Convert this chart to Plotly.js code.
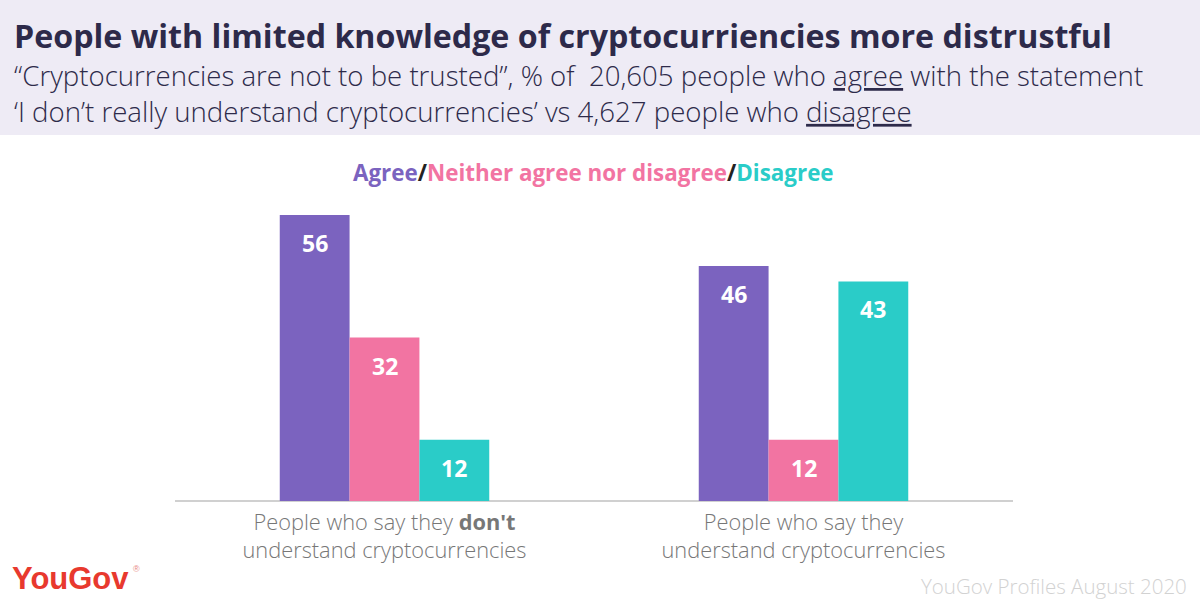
<!DOCTYPE html>
<html>
<head>
<meta charset="utf-8">
<script src="https://cdn.plot.ly/plotly-3.0.1.min.js"></script>
<style>html,body{margin:0;padding:0;background:#fff;}#chart{width:1200px;height:600px;}</style>
</head>
<body>
<div id="chart"></div>
<script>
// ---- data ----
const categories = [
  "People who say they <b>don't</b><br>understand cryptocurrencies",
  "People who say they<br>understand cryptocurrencies"
];
const seriesNames = ["Agree", "Neither agree nor disagree", "Disagree"];
const agreeValues = [56, 46];
const neitherValues = [32, 12];
const disagreeValues = [12, 43];
const seriesValues = [agreeValues, neitherValues, disagreeValues];
const seriesColors = ["#7B63BF", "#F274A2", "#2ACCC8"];

// ---- layout geometry ----
const W = 1200, H = 600;
const M = {l: 175, r: 187, t: 195, b: 99};
const PW = W - M.l - M.r, PH = H - M.t - M.b;
const xp = px => (px - M.l) / PW;
const yp = py => (H - M.b - py) / PH;
const bargap = 0.5;
const barW = (1 - bargap) / 3;

const FONT = "'Open Sans', Lato, sans-serif";
const DARK = "#2D2A4A";

const traces = seriesNames.map((name, j) => ({
  type: "bar",
  name: name,
  x: categories.map((c, i) => i),
  y: seriesValues[j],
  marker: {color: seriesColors[j], line: {width: 0}},
  hoverinfo: "skip"
}));

const annotations = [];
seriesValues.forEach((vals, j) => {
  vals.forEach((v, i) => {
    annotations.push({
      x: i + (j - 1) * barW, y: v, xref: "x", yref: "y",
      text: "<b>" + v + "</b>", showarrow: false,
      yanchor: "middle", yshift: -28,
      font: {family: FONT, size: 23, color: "#ffffff"}
    });
  });
});

// header texts
annotations.push({
  xref: "paper", yref: "paper", x: xp(12), y: yp(35), xanchor: "left", yanchor: "middle",
  text: "<b>People with limited knowledge of cryptocurriencies more distrustful</b>",
  showarrow: false, font: {family: FONT, size: 32.2, color: DARK}
});
annotations.push({
  xref: "paper", yref: "paper", x: xp(12), y: yp(93), xanchor: "left", yanchor: "middle",
  align: "left",
  text: "“Cryptocurrencies are not to be trusted”, % of  20,605 people who <u>agree</u> with the statement<br>" +
        "‘I don’t really understand cryptocurrencies’ vs 4,627 people who <u>disagree</u>",
  showarrow: false, font: {family: FONT, size: 27.6, color: DARK, weight: 300}
});
// legend line
annotations.push({
  xref: "paper", yref: "paper", x: xp(593), y: yp(172), xanchor: "center", yanchor: "middle",
  text: "<b><span style='color:" + seriesColors[0] + "'>" + seriesNames[0] + "</span>/" +
        "<span style='color:" + seriesColors[1] + "'>" + seriesNames[1] + "</span>/" +
        "<span style='color:" + seriesColors[2] + "'>" + seriesNames[2] + "</span></b>",
  showarrow: false, font: {family: FONT, size: 22.4, color: "#222222"}
});
// logo
annotations.push({
  xref: "paper", yref: "paper", x: xp(10), y: yp(578), xanchor: "left", yanchor: "middle",
  text: "<b>YouGov</b>",
  showarrow: false, font: {family: "'Liberation Sans', Arial, sans-serif", size: 31, color: "#E8392E"}
});
annotations.push({
  xref: "paper", yref: "paper", x: xp(131), y: yp(569), xanchor: "left", yanchor: "middle",
  text: "®",
  showarrow: false, font: {family: "'Liberation Sans', Arial, sans-serif", size: 9, color: "#E88A84"}
});
// source
annotations.push({
  xref: "paper", yref: "paper", x: xp(1189), y: yp(586), xanchor: "right", yanchor: "middle",
  text: "YouGov Profiles August 2020",
  showarrow: false, font: {family: FONT, size: 20.5, color: "#D2D2D2", weight: 300}
});

const layout = {
  width: W, height: H,
  margin: M,
  paper_bgcolor: "#ffffff", plot_bgcolor: "rgba(0,0,0,0)",
  barmode: "group", bargap: bargap, bargroupgap: 0,
  showlegend: false,
  font: {family: FONT},
  xaxis: {
    range: [-0.5, 1.5], tickmode: "array", tickvals: [0, 1], ticktext: categories,
    showgrid: false, zeroline: false, showline: false, ticks: "",
    ticklabelstandoff: 6,
    tickfont: {family: FONT, size: 21.8, color: "#777777", weight: 300}, fixedrange: true
  },
  yaxis: {
    range: [0, PH / 5.107], showgrid: false, zeroline: true, zerolinecolor: "#D0D0D0", zerolinewidth: 2,
    showticklabels: false, showline: false, ticks: "", fixedrange: true
  },
  shapes: [{
    type: "rect", xref: "paper", yref: "paper", layer: "below",
    x0: xp(0), x1: xp(W), y0: yp(135), y1: yp(0),
    fillcolor: "#EEEBF5", line: {width: 0}
  }],
  annotations: annotations
};

Plotly.newPlot("chart", traces, layout, {displayModeBar: false, staticPlot: true});
</script>
</body>
</html>
